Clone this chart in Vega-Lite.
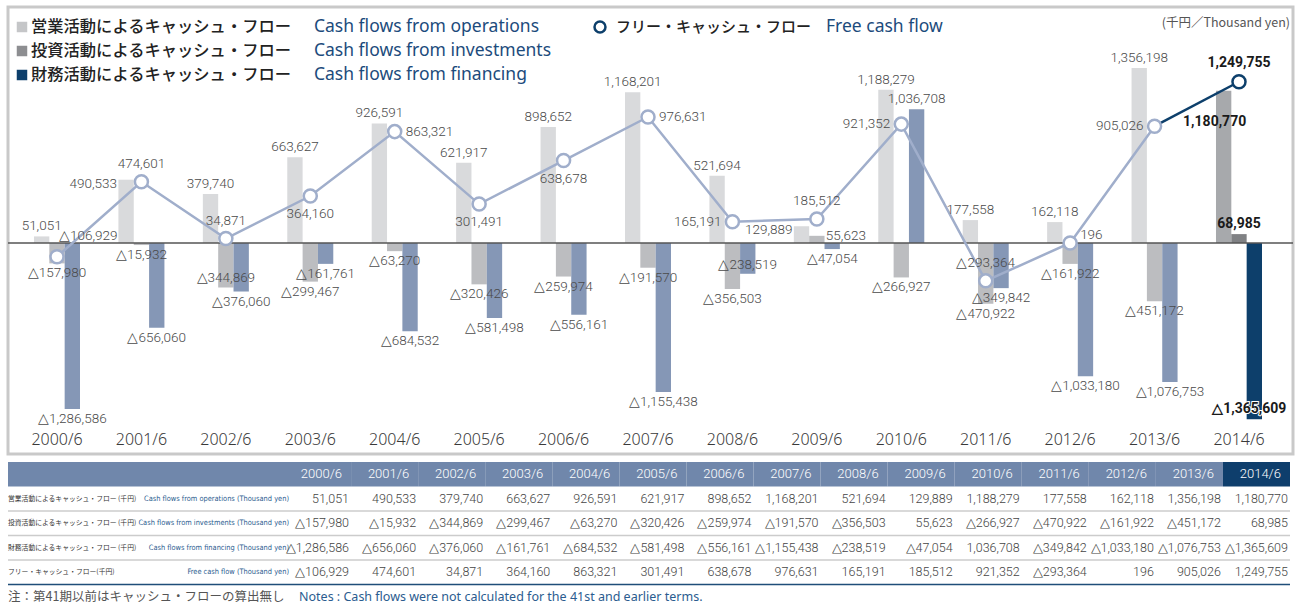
{
  "$schema": "https://vega.github.io/schema/vega-lite/v6.json",
  "padding": {"left": 5, "top": 5, "right": 0, "bottom": 0},
  "background": "white",
  "bounds": "flush",
  "spacing": 8,
  "config": {"view": {"stroke": null}, "axis": {"grid": false}, "text": {"font": "Roboto"}},
  "datasets": {
    "cf": [
      {"year": "2000/6", "series": "op", "value": 51051}, {"year": "2000/6", "series": "inv", "value": -157980}, {"year": "2000/6", "series": "fin", "value": -1286586}, {"year": "2000/6", "series": "fcf", "value": -106929},
      {"year": "2001/6", "series": "op", "value": 490533}, {"year": "2001/6", "series": "inv", "value": -15932}, {"year": "2001/6", "series": "fin", "value": -656060}, {"year": "2001/6", "series": "fcf", "value": 474601},
      {"year": "2002/6", "series": "op", "value": 379740}, {"year": "2002/6", "series": "inv", "value": -344869}, {"year": "2002/6", "series": "fin", "value": -376060}, {"year": "2002/6", "series": "fcf", "value": 34871},
      {"year": "2003/6", "series": "op", "value": 663627}, {"year": "2003/6", "series": "inv", "value": -299467}, {"year": "2003/6", "series": "fin", "value": -161761}, {"year": "2003/6", "series": "fcf", "value": 364160},
      {"year": "2004/6", "series": "op", "value": 926591}, {"year": "2004/6", "series": "inv", "value": -63270}, {"year": "2004/6", "series": "fin", "value": -684532}, {"year": "2004/6", "series": "fcf", "value": 863321},
      {"year": "2005/6", "series": "op", "value": 621917}, {"year": "2005/6", "series": "inv", "value": -320426}, {"year": "2005/6", "series": "fin", "value": -581498}, {"year": "2005/6", "series": "fcf", "value": 301491},
      {"year": "2006/6", "series": "op", "value": 898652}, {"year": "2006/6", "series": "inv", "value": -259974}, {"year": "2006/6", "series": "fin", "value": -556161}, {"year": "2006/6", "series": "fcf", "value": 638678},
      {"year": "2007/6", "series": "op", "value": 1168201}, {"year": "2007/6", "series": "inv", "value": -191570}, {"year": "2007/6", "series": "fin", "value": -1155438}, {"year": "2007/6", "series": "fcf", "value": 976631},
      {"year": "2008/6", "series": "op", "value": 521694}, {"year": "2008/6", "series": "inv", "value": -356503}, {"year": "2008/6", "series": "fin", "value": -238519}, {"year": "2008/6", "series": "fcf", "value": 165191},
      {"year": "2009/6", "series": "op", "value": 129889}, {"year": "2009/6", "series": "inv", "value": 55623}, {"year": "2009/6", "series": "fin", "value": -47054}, {"year": "2009/6", "series": "fcf", "value": 185512},
      {"year": "2010/6", "series": "op", "value": 1188279}, {"year": "2010/6", "series": "inv", "value": -266927}, {"year": "2010/6", "series": "fin", "value": 1036708}, {"year": "2010/6", "series": "fcf", "value": 921352},
      {"year": "2011/6", "series": "op", "value": 177558}, {"year": "2011/6", "series": "inv", "value": -470922}, {"year": "2011/6", "series": "fin", "value": -349842}, {"year": "2011/6", "series": "fcf", "value": -293364},
      {"year": "2012/6", "series": "op", "value": 162118}, {"year": "2012/6", "series": "inv", "value": -161922}, {"year": "2012/6", "series": "fin", "value": -1033180}, {"year": "2012/6", "series": "fcf", "value": 196},
      {"year": "2013/6", "series": "op", "value": 1356198}, {"year": "2013/6", "series": "inv", "value": -451172}, {"year": "2013/6", "series": "fin", "value": -1076753}, {"year": "2013/6", "series": "fcf", "value": 905026},
      {"year": "2014/6", "series": "op", "value": 1180770}, {"year": "2014/6", "series": "inv", "value": 68985}, {"year": "2014/6", "series": "fin", "value": -1365609}, {"year": "2014/6", "series": "fcf", "value": 1249755}
    ],
    "rows": [
      {"row": "op", "ja": "営業活動によるキャッシュ・フロー (千円)", "en": "Cash flows from operations (Thousand yen)"},
      {"row": "inv", "ja": "投資活動によるキャッシュ・フロー (千円)", "en": "Cash flows from investments (Thousand yen)"},
      {"row": "fin", "ja": "財務活動によるキャッシュ・フロー (千円)", "en": "Cash flows from financing (Thousand yen)"},
      {"row": "fcf", "ja": "フリー・キャッシュ・フロー(千円)", "en": "Free cash flow (Thousand yen)"}
    ]
  },
  "vconcat": [
    {
      "width": 1285,
      "height": 447,
      "view": {"stroke": "#c9c9c9", "strokeWidth": 3},
      "data": {"name": "cf"},
      "transform": [
        {"calculate": "(datum.value < 0 ? '△' : '') + format(abs(datum.value), ',')", "as": "label"},
        {"calculate": "datum.year + ':' + datum.series", "as": "key"}
      ],
      "layer": [
        {
          "transform": [{"filter": "datum.series !== 'fcf' && datum.year !== '2014/6'"}],
          "mark": {"type": "bar"},
          "encoding": {
            "x": {"field": "year", "type": "nominal", "scale": {"domain": ["2000/6","2001/6","2002/6","2003/6","2004/6","2005/6","2006/6","2007/6","2008/6","2009/6","2010/6","2011/6","2012/6","2013/6","2014/6"], "paddingInner": 0.455, "paddingOuter": 0.3375, "align": 0.456}, "axis": {"orient": "bottom", "offset": -25, "domain": false, "ticks": false, "labelFontSize": 16, "labelColor": "#3a3a3a", "labelFont": "Noto Sans", "labelFontWeight": 300, "labelPadding": 2, "labelAngle": 0, "title": null}},
            "xOffset": {"field": "series", "type": "nominal", "scale": {"domain": ["op","inv","fin"], "paddingInner": 0, "paddingOuter": 0}},
            "y": {"field": "value", "type": "quantitative", "scale": {"domain": [-1635250, 1829000], "nice": false}, "axis": null},
            "color": {"condition": [{"test": "datum.series === 'op'", "value": "#d9dadc"}, {"test": "datum.series === 'inv'", "value": "#bcbdc0"}], "value": "#8597b6"}
          }
        },
        {
          "transform": [{"filter": "datum.series !== 'fcf' && datum.year === '2014/6'"}],
          "mark": {"type": "bar"},
          "encoding": {
            "x": {"field": "year", "type": "nominal"},
            "xOffset": {"field": "series", "type": "nominal"},
            "y": {"field": "value", "type": "quantitative"},
            "color": {"condition": [{"test": "datum.series === 'op'", "value": "#a7a9ac"}, {"test": "datum.series === 'inv'", "value": "#808184"}], "value": "#0d3f6b"}
          }
        },
        {
          "data": {"values": [{}]},
          "mark": {"type": "rule", "color": "#555555", "strokeWidth": 1.5},
          "encoding": {"y": {"datum": 0, "type": "quantitative"}}
        },
        {
          "transform": [{"filter": "datum.series === 'fcf' && datum.year !== '2014/6'"}],
          "mark": {"type": "line", "color": "#a0aecb", "strokeWidth": 2.5},
          "encoding": {"x": {"field": "year", "type": "nominal"}, "y": {"field": "value", "type": "quantitative"}}
        },
        {
          "transform": [{"filter": "datum.series === 'fcf' && (datum.year === '2013/6' || datum.year === '2014/6')"}],
          "mark": {"type": "line", "color": "#0d3f6b", "strokeWidth": 2.5},
          "encoding": {"x": {"field": "year", "type": "nominal"}, "y": {"field": "value", "type": "quantitative"}}
        },
        {
          "transform": [{"filter": "datum.series === 'fcf' && datum.year !== '2014/6'"}],
          "mark": {"type": "point", "shape": "circle", "filled": true, "fill": "white", "stroke": "#a0aecb", "strokeWidth": 2.5, "size": 170, "opacity": 1},
          "encoding": {"x": {"field": "year", "type": "nominal"}, "y": {"field": "value", "type": "quantitative"}}
        },
        {
          "transform": [{"filter": "datum.series === 'fcf' && datum.year === '2014/6'"}],
          "mark": {"type": "point", "shape": "circle", "filled": true, "fill": "white", "stroke": "#0d3f6b", "strokeWidth": 2.5, "size": 170, "opacity": 1},
          "encoding": {"x": {"field": "year", "type": "nominal"}, "y": {"field": "value", "type": "quantitative"}}
        },
        {
          "transform": [{"filter": "datum.series !== 'fcf' && datum.year !== '2014/6' && datum.value >= 0 && indexof(['2001/6:op','2009/6:op','2009/6:inv'], datum.key) < 0"}],
          "mark": {"type": "text", "baseline": "bottom", "dy": -3, "fontSize": 13.5, "fontWeight": 300, "color": "#4a4a4a"},
          "encoding": {"x": {"field": "year", "type": "nominal"}, "xOffset": {"field": "series", "type": "nominal"}, "y": {"field": "value", "type": "quantitative"}, "text": {"field": "label"}}
        },
        {
          "transform": [{"filter": "datum.series !== 'fcf' && datum.year !== '2014/6' && datum.value < 0 && indexof(['2002/6:inv','2008/6:fin'], datum.key) < 0"}],
          "mark": {"type": "text", "baseline": "top", "dy": 3, "fontSize": 13.5, "fontWeight": 300, "color": "#4a4a4a"},
          "encoding": {"x": {"field": "year", "type": "nominal"}, "xOffset": {"field": "series", "type": "nominal"}, "y": {"field": "value", "type": "quantitative"}, "text": {"field": "label"}}
        },
        {
          "transform": [{"filter": "indexof(['2001/6:op','2009/6:op'], datum.key) >= 0"}],
          "mark": {"type": "text", "baseline": "middle", "align": "right", "dx": -9, "dy": 4, "fontSize": 13.5, "fontWeight": 300, "color": "#4a4a4a"},
          "encoding": {"x": {"field": "year", "type": "nominal"}, "xOffset": {"field": "series", "type": "nominal"}, "y": {"field": "value", "type": "quantitative"}, "text": {"field": "label"}}
        },
        {
          "transform": [{"filter": "indexof(['2009/6:inv'], datum.key) >= 0"}],
          "mark": {"type": "text", "baseline": "middle", "align": "left", "dx": 9, "fontSize": 13.5, "fontWeight": 300, "color": "#4a4a4a"},
          "encoding": {"x": {"field": "year", "type": "nominal"}, "xOffset": {"field": "series", "type": "nominal"}, "y": {"field": "value", "type": "quantitative"}, "text": {"field": "label"}}
        },
        {
          "transform": [{"filter": "indexof(['2002/6:inv','2008/6:fin'], datum.key) >= 0"}],
          "mark": {"type": "text", "baseline": "bottom", "dy": -2, "fontSize": 13.5, "fontWeight": 300, "color": "#4a4a4a"},
          "encoding": {"x": {"field": "year", "type": "nominal"}, "xOffset": {"field": "series", "type": "nominal"}, "y": {"field": "value", "type": "quantitative"}, "text": {"field": "label"}}
        },
        {
          "transform": [{"filter": "datum.key === '2014/6:op'"}],
          "mark": {"type": "text", "baseline": "middle", "dx": -9, "dy": 31, "fontSize": 14, "fontWeight": "bold", "color": "#1a1a1a"},
          "encoding": {"x": {"field": "year", "type": "nominal"}, "xOffset": {"field": "series", "type": "nominal"}, "y": {"field": "value", "type": "quantitative"}, "text": {"field": "label"}}
        },
        {
          "transform": [{"filter": "datum.key === '2014/6:inv'"}],
          "mark": {"type": "text", "baseline": "bottom", "dy": -3, "fontSize": 14, "fontWeight": "bold", "color": "#1a1a1a"},
          "encoding": {"x": {"field": "year", "type": "nominal"}, "xOffset": {"field": "series", "type": "nominal"}, "y": {"field": "value", "type": "quantitative"}, "text": {"field": "label"}}
        },
        {
          "transform": [{"filter": "datum.key === '2014/6:fin'"}],
          "mark": {"type": "text", "baseline": "bottom", "dy": -3, "dx": -5, "fontSize": 14, "fontWeight": "bold", "stroke": "white", "strokeWidth": 2, "color": "white"},
          "encoding": {"x": {"field": "year", "type": "nominal"}, "xOffset": {"field": "series", "type": "nominal"}, "y": {"field": "value", "type": "quantitative"}, "text": {"field": "label"}}
        },
        {
          "transform": [{"filter": "datum.key === '2014/6:fin'"}],
          "mark": {"type": "text", "baseline": "bottom", "dy": -3, "dx": -5, "fontSize": 14, "fontWeight": "bold", "color": "#1a1a1a"},
          "encoding": {"x": {"field": "year", "type": "nominal"}, "xOffset": {"field": "series", "type": "nominal"}, "y": {"field": "value", "type": "quantitative"}, "text": {"field": "label"}}
        },
        {
          "transform": [{"filter": "datum.series === 'fcf' && indexof(['2001/6','2002/6','2009/6','2011/6'], datum.year) >= 0"}],
          "mark": {"type": "text", "baseline": "middle", "dy": -18, "fontSize": 13.5, "fontWeight": 300, "color": "#4a4a4a"},
          "encoding": {"x": {"field": "year", "type": "nominal"}, "y": {"field": "value", "type": "quantitative"}, "text": {"field": "label"}}
        },
        {
          "transform": [{"filter": "datum.series === 'fcf' && indexof(['2003/6','2005/6','2006/6'], datum.year) >= 0"}],
          "mark": {"type": "text", "baseline": "middle", "dy": 18, "fontSize": 13.5, "fontWeight": 300, "color": "#4a4a4a"},
          "encoding": {"x": {"field": "year", "type": "nominal"}, "y": {"field": "value", "type": "quantitative"}, "text": {"field": "label"}}
        },
        {
          "transform": [{"filter": "datum.series === 'fcf' && indexof(['2004/6','2007/6'], datum.year) >= 0"}],
          "mark": {"type": "text", "baseline": "middle", "align": "left", "dx": 11, "fontSize": 13.5, "fontWeight": 300, "color": "#4a4a4a"},
          "encoding": {"x": {"field": "year", "type": "nominal"}, "y": {"field": "value", "type": "quantitative"}, "text": {"field": "label"}}
        },
        {
          "transform": [{"filter": "datum.series === 'fcf' && datum.year === '2000/6'"}],
          "mark": {"type": "text", "baseline": "middle", "align": "left", "dx": 2, "dy": -21, "fontSize": 13.5, "fontWeight": 300, "color": "#4a4a4a"},
          "encoding": {"x": {"field": "year", "type": "nominal"}, "y": {"field": "value", "type": "quantitative"}, "text": {"field": "label"}}
        },
        {
          "transform": [{"filter": "datum.series === 'fcf' && datum.year === '2012/6'"}],
          "mark": {"type": "text", "baseline": "middle", "align": "left", "dx": 10, "dy": -8, "fontSize": 13.5, "fontWeight": 300, "color": "#4a4a4a"},
          "encoding": {"x": {"field": "year", "type": "nominal"}, "y": {"field": "value", "type": "quantitative"}, "text": {"field": "label"}}
        },
        {
          "transform": [{"filter": "datum.series === 'fcf' && indexof(['2008/6','2010/6','2013/6'], datum.year) >= 0"}],
          "mark": {"type": "text", "baseline": "middle", "align": "right", "dx": -11, "fontSize": 13.5, "fontWeight": 300, "color": "#4a4a4a"},
          "encoding": {"x": {"field": "year", "type": "nominal"}, "y": {"field": "value", "type": "quantitative"}, "text": {"field": "label"}}
        },
        {
          "transform": [{"filter": "datum.series === 'fcf' && datum.year === '2014/6'"}],
          "mark": {"type": "text", "baseline": "middle", "dy": -19, "fontSize": 14, "fontWeight": "bold", "color": "#1a1a1a"},
          "encoding": {"x": {"field": "year", "type": "nominal"}, "y": {"field": "value", "type": "quantitative"}, "text": {"field": "label"}}
        },
        {
          "data": {"values": [{}]},
          "mark": {"type": "square", "size": 110, "color": "#c5c6c8", "opacity": 1, "xOffset": -35},
          "encoding": {"x": {"datum": "2000/6", "type": "nominal"}, "y": {"datum": 1674000, "type": "quantitative"}}
        },
        {
          "data": {"values": [{}]},
          "mark": {"type": "square", "size": 110, "color": "#8d8e91", "opacity": 1, "xOffset": -35},
          "encoding": {"x": {"datum": "2000/6", "type": "nominal"}, "y": {"datum": 1488000, "type": "quantitative"}}
        },
        {
          "data": {"values": [{}]},
          "mark": {"type": "square", "size": 110, "color": "#0d3f6b", "opacity": 1, "xOffset": -35},
          "encoding": {"x": {"datum": "2000/6", "type": "nominal"}, "y": {"datum": 1302000, "type": "quantitative"}}
        },
        {
          "data": {"values": [{}]},
          "mark": {"type": "text", "align": "left", "baseline": "middle", "dx": -26, "font": "Noto Sans CJK JP", "fontWeight": 500, "fontSize": 16.3, "color": "#222222", "text": "営業活動によるキャッシュ・フロー"},
          "encoding": {"x": {"datum": "2000/6", "type": "nominal"}, "y": {"datum": 1674000, "type": "quantitative"}}
        },
        {
          "data": {"values": [{}]},
          "mark": {"type": "text", "align": "left", "baseline": "middle", "dx": -26, "font": "Noto Sans CJK JP", "fontWeight": 500, "fontSize": 16.3, "color": "#222222", "text": "投資活動によるキャッシュ・フロー"},
          "encoding": {"x": {"datum": "2000/6", "type": "nominal"}, "y": {"datum": 1488000, "type": "quantitative"}}
        },
        {
          "data": {"values": [{}]},
          "mark": {"type": "text", "align": "left", "baseline": "middle", "dx": -26, "font": "Noto Sans CJK JP", "fontWeight": 500, "fontSize": 16.3, "color": "#222222", "text": "財務活動によるキャッシュ・フロー"},
          "encoding": {"x": {"datum": "2000/6", "type": "nominal"}, "y": {"datum": 1302000, "type": "quantitative"}}
        },
        {
          "data": {"values": [{}]},
          "mark": {"type": "text", "align": "left", "baseline": "middle", "dx": 257, "font": "Noto Sans", "fontSize": 17.5, "color": "#1c4b7c", "text": "Cash flows from operations"},
          "encoding": {"x": {"datum": "2000/6", "type": "nominal"}, "y": {"datum": 1674000, "type": "quantitative"}}
        },
        {
          "data": {"values": [{}]},
          "mark": {"type": "text", "align": "left", "baseline": "middle", "dx": 257, "font": "Noto Sans", "fontSize": 17.5, "color": "#1c4b7c", "text": "Cash flows from investments"},
          "encoding": {"x": {"datum": "2000/6", "type": "nominal"}, "y": {"datum": 1488000, "type": "quantitative"}}
        },
        {
          "data": {"values": [{}]},
          "mark": {"type": "text", "align": "left", "baseline": "middle", "dx": 257, "font": "Noto Sans", "fontSize": 17.5, "color": "#1c4b7c", "text": "Cash flows from financing"},
          "encoding": {"x": {"datum": "2000/6", "type": "nominal"}, "y": {"datum": 1302000, "type": "quantitative"}}
        },
        {
          "data": {"values": [{}]},
          "mark": {"type": "point", "shape": "circle", "filled": true, "fill": "white", "stroke": "#0d3f6b", "strokeWidth": 2.5, "size": 120, "opacity": 1, "xOffset": -48},
          "encoding": {"x": {"datum": "2007/6", "type": "nominal"}, "y": {"datum": 1674000, "type": "quantitative"}}
        },
        {
          "data": {"values": [{}]},
          "mark": {"type": "text", "align": "left", "baseline": "middle", "dx": -32, "font": "Noto Sans CJK JP", "fontWeight": 500, "fontSize": 15, "color": "#222222", "text": "フリー・キャッシュ・フロー"},
          "encoding": {"x": {"datum": "2007/6", "type": "nominal"}, "y": {"datum": 1674000, "type": "quantitative"}}
        },
        {
          "data": {"values": [{}]},
          "mark": {"type": "text", "align": "left", "baseline": "middle", "dx": 178, "font": "Noto Sans", "fontSize": 17.5, "color": "#1c4b7c", "text": "Free cash flow"},
          "encoding": {"x": {"datum": "2007/6", "type": "nominal"}, "y": {"datum": 1674000, "type": "quantitative"}}
        },
        {
          "data": {"values": [{}]},
          "mark": {"type": "text", "align": "right", "baseline": "middle", "dx": 51, "font": "Noto Sans CJK JP", "fontSize": 12.5, "color": "#555555", "text": "(千円／Thousand yen)"},
          "encoding": {"x": {"datum": "2014/6", "type": "nominal"}, "y": {"datum": 1705000, "type": "quantitative"}}
        }
      ]
    },
    {
      "hconcat": [
        {
          "width": 276,
          "height": 147,
          "data": {"name": "rows"},
          "layer": [
            {
              "data": {"values": [{}]},
              "mark": {"type": "rect", "color": "#7087ab"},
              "encoding": {"y": {"datum": "hdr", "type": "nominal", "scale": {"domain": ["hdr","op","inv","fin","fcf","note"], "paddingInner": 0, "paddingOuter": 0}, "axis": null}}
            },
            {
              "transform": [{"filter": "datum.row !== 'fcf'"}],
              "mark": {"type": "rule", "color": "#cccccc", "strokeWidth": 1.5},
              "encoding": {"y": {"field": "row", "type": "nominal", "bandPosition": 1}}
            },
            {
              "transform": [{"filter": "datum.row === 'fcf'"}],
              "mark": {"type": "rule", "color": "#1f4e79", "strokeWidth": 1.5},
              "encoding": {"y": {"field": "row", "type": "nominal", "bandPosition": 1}}
            },
            {
              "mark": {"type": "text", "align": "left", "baseline": "middle", "x": 0, "font": "Noto Sans CJK JP", "fontSize": 6.8, "color": "#333333"},
              "encoding": {"y": {"field": "row", "type": "nominal"}, "text": {"field": "ja"}}
            },
            {
              "mark": {"type": "text", "align": "right", "baseline": "middle", "x": 281, "font": "Liberation Sans Narrow, DejaVu Sans Condensed, Roboto", "fontSize": 7.4, "color": "#2b5c8f"},
              "encoding": {"y": {"field": "row", "type": "nominal"}, "text": {"field": "en"}}
            },
            {
              "data": {"values": [{}]},
              "mark": {"type": "text", "align": "left", "baseline": "middle", "x": 0, "font": "Noto Sans CJK JP", "fontSize": 12.5, "color": "#555555", "text": "注：第41期以前はキャッシュ・フローの算出無し"},
              "encoding": {"y": {"datum": "note", "type": "nominal"}}
            }
          ]
        },
        {
          "width": 1006,
          "height": 147,
          "data": {"name": "cf"},
          "transform": [
            {"calculate": "(datum.value < 0 ? '△' : '') + format(abs(datum.value), ',')", "as": "label"}
          ],
          "layer": [
            {
              "transform": [{"filter": "datum.series === 'op'"}],
              "mark": {"type": "rect"},
              "encoding": {
                "x": {"field": "year", "type": "nominal", "scale": {"domain": ["2000/6","2001/6","2002/6","2003/6","2004/6","2005/6","2006/6","2007/6","2008/6","2009/6","2010/6","2011/6","2012/6","2013/6","2014/6"], "paddingInner": 0, "paddingOuter": 0}, "axis": null},
                "y": {"datum": "hdr", "type": "nominal", "scale": {"domain": ["hdr","op","inv","fin","fcf","note"], "paddingInner": 0, "paddingOuter": 0}, "axis": null},
                "color": {"condition": {"test": "datum.year === '2014/6'", "value": "#0e3e6c"}, "value": "#7087ab"}
              }
            },
            {
              "transform": [{"filter": "datum.series === 'op'"}],
              "mark": {"type": "text", "align": "right", "baseline": "middle", "dx": -9, "fontSize": 13, "fontWeight": 300, "color": "white"},
              "encoding": {
                "x": {"field": "year", "type": "nominal", "bandPosition": 1},
                "y": {"datum": "hdr", "type": "nominal"},
                "text": {"field": "year"}
              }
            },
            {
              "transform": [{"filter": "datum.year === '2000/6' && datum.series !== 'fcf'"}],
              "mark": {"type": "rule", "color": "#cccccc", "strokeWidth": 1.5},
              "encoding": {"y": {"field": "series", "type": "nominal", "bandPosition": 1}}
            },
            {
              "transform": [{"filter": "datum.year === '2000/6' && datum.series === 'fcf'"}],
              "mark": {"type": "rule", "color": "#1f4e79", "strokeWidth": 1.5},
              "encoding": {"y": {"field": "series", "type": "nominal", "bandPosition": 1}}
            },
            {
              "mark": {"type": "text", "align": "right", "baseline": "middle", "dx": -2, "fontSize": 12.5, "fontWeight": 300, "color": "#444444"},
              "encoding": {
                "x": {"field": "year", "type": "nominal", "bandPosition": 1},
                "y": {"field": "series", "type": "nominal"},
                "text": {"field": "label"}
              }
            },
            {
              "data": {"values": [{}]},
              "mark": {"type": "text", "align": "left", "baseline": "middle", "x": 15, "font": "Noto Sans", "fontSize": 12.5, "color": "#2b5c8f", "text": "Notes : Cash flows were not calculated for the 41st and earlier terms."},
              "encoding": {"y": {"datum": "note", "type": "nominal"}}
            }
          ]
        }
      ],
      "spacing": 0,
      "bounds": "flush"
    }
  ]
}
